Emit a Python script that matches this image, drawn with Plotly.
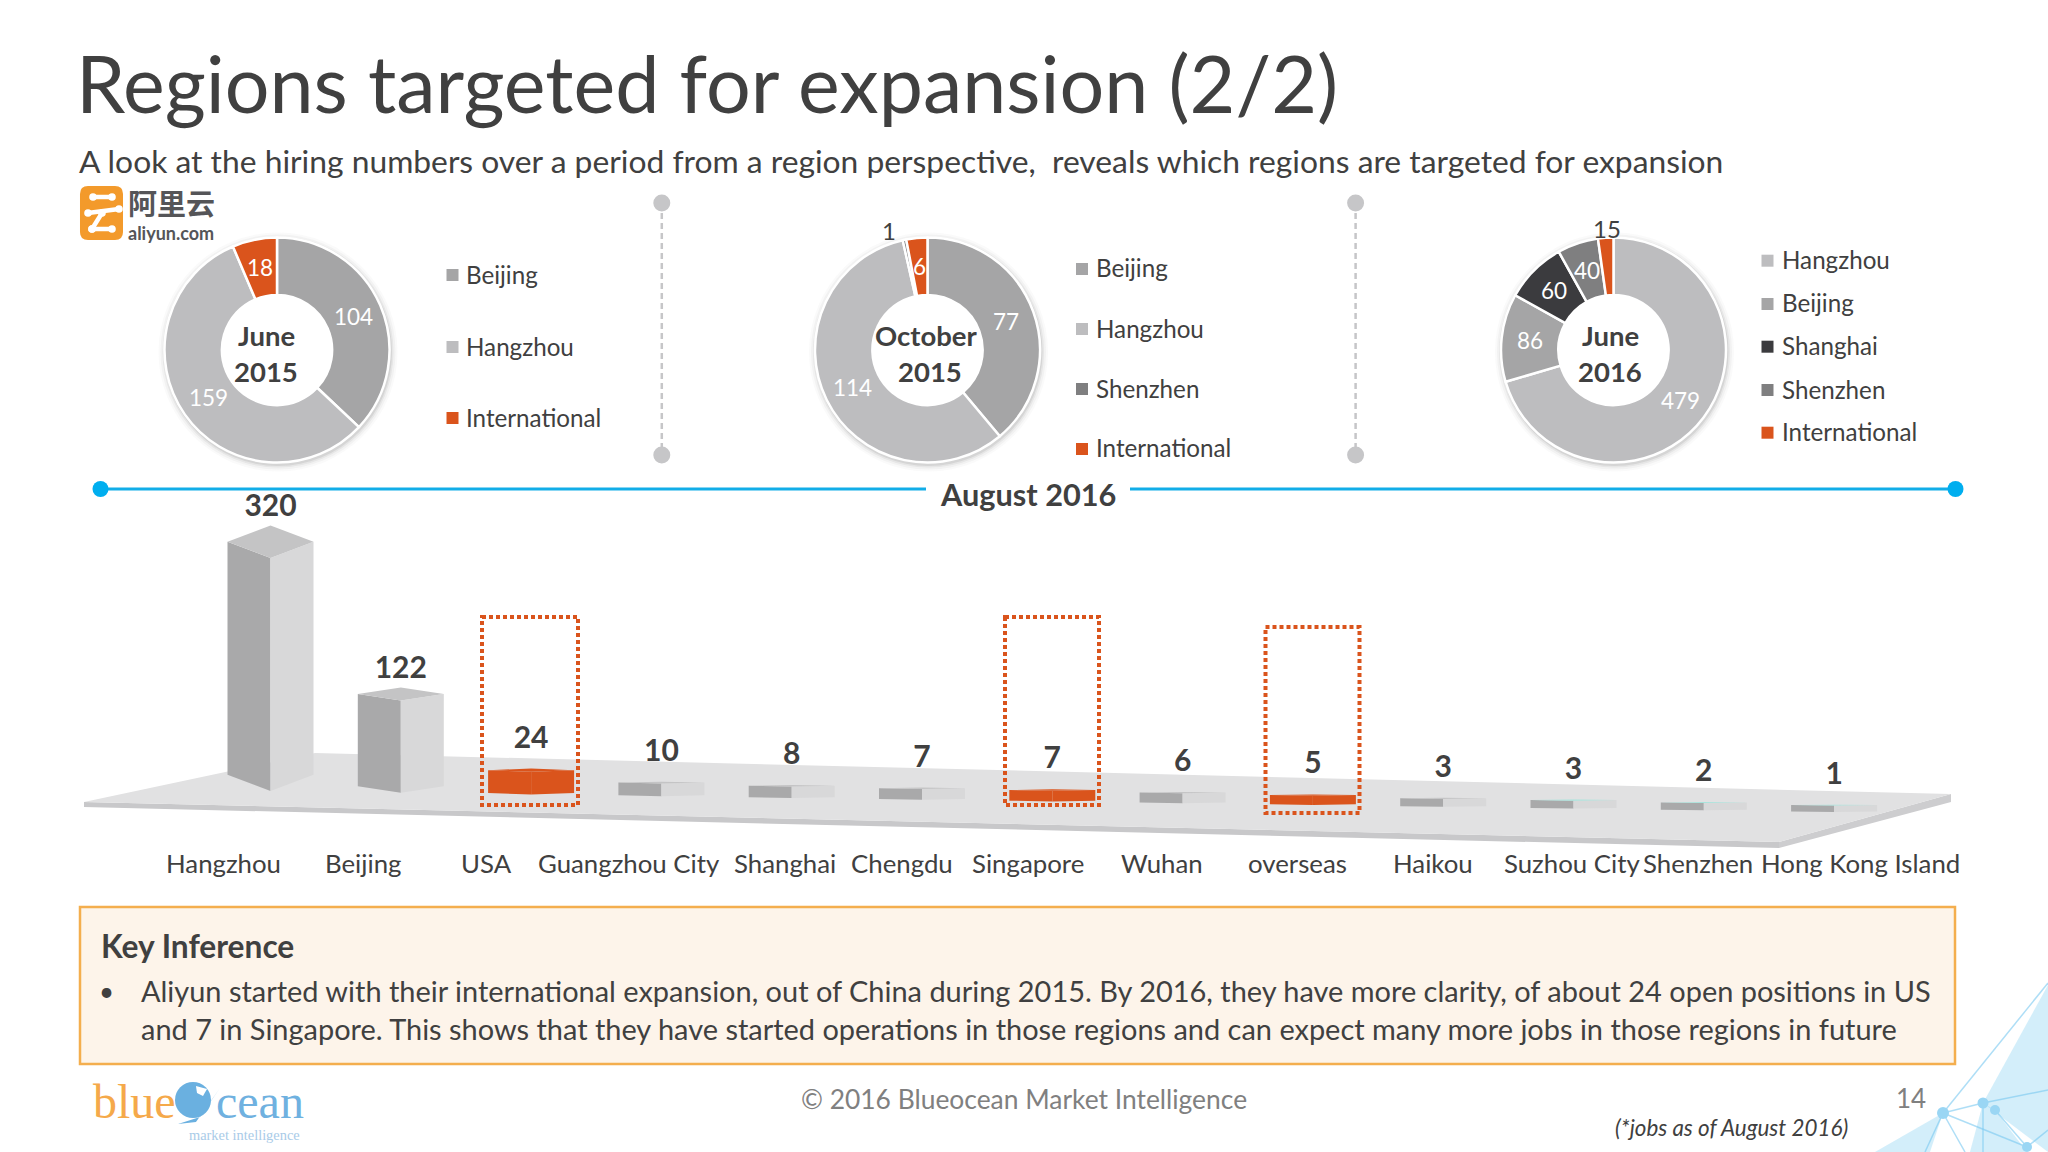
import math
import plotly.graph_objects as go

W, H = 2048, 1152

# ============================================================================
# DATA
# ============================================================================

june15_labels = ["Beijing", "Hangzhou", "International"]
june15_values = [104, 159, 18]

oct15_labels = ["Beijing", "Hangzhou", "Shenzhen", "International"]
oct15_values = [77, 114, 1, 6]

june16_labels = ["Hangzhou", "Beijing", "Shanghai", "Shenzhen", "International"]
june16_values = [479, 86, 60, 40, 15]

cities = ["Hangzhou", "Beijing", "USA", "Guangzhou City", "Shanghai", "Chengdu", "Singapore",
          "Wuhan", "overseas", "Haikou", "Suzhou City", "Shenzhen", "Hong Kong Island"]
jobs = [320, 122, 24, 10, 8, 7, 7, 6, 5, 3, 3, 2, 1]

# ============================================================================
# THEME
# ============================================================================

FONT = "Lato"
DARK = "#404040"
ORANGE = "#DA541C"
SLICE_COLORS = {
    "Hangzhou": "#BDBDBF", "Beijing": "#A5A5A6", "Shanghai": "#3B3B3E",
    "Shenzhen": "#7F7F80", "International": ORANGE,
}
INTL_CITIES = {"USA", "Singapore", "overseas"}
TEAL_TOPS = {"Suzhou City", "Shenzhen", "Hong Kong Island"}

shapes = []
notes = []


def px(x):
    return x / W


def py(y):
    return 1 - y / H


def label(text, x, y, size, color=DARK, bold=False, italic=False, anchor="center", family=FONT):
    notes.append(dict(
        text=text, x=px(x), y=py(y), xref="paper", yref="paper", showarrow=False,
        xanchor=anchor, yanchor="middle", align=anchor if anchor != "center" else "center",
        font=dict(family=family, size=size, color=color,
                  weight=700 if bold else 400, style="italic" if italic else "normal"),
    ))


def rect(x0, y0, x1, y1, fill, line=None, width=0, layer="below", dash=None):
    shapes.append(dict(
        type="rect", xref="paper", yref="paper", x0=px(x0), x1=px(x1), y0=py(y0), y1=py(y1),
        fillcolor=fill, line=dict(color=line, width=width, dash=dash), layer=layer,
    ))


def circle(cx, cy, r, fill, layer="below"):
    shapes.append(dict(
        type="circle", xref="paper", yref="paper", x0=px(cx - r), x1=px(cx + r),
        y0=py(cy - r), y1=py(cy + r), fillcolor=fill, line=dict(width=0), layer=layer,
    ))


def seg(x0, y0, x1, y1, color, width, dash=None, layer="below"):
    shapes.append(dict(
        type="line", xref="paper", yref="paper", x0=px(x0), x1=px(x1), y0=py(y0), y1=py(y1),
        line=dict(color=color, width=width, dash=dash), layer=layer,
    ))


def poly(points, fill, line_color=None, line_width=0, layer="below"):
    d = "M " + " L ".join(f"{px(x):.5f},{py(y):.5f}" for x, y in points) + " Z"
    shapes.append(dict(
        type="path", xref="paper", yref="paper", path=d, fillcolor=fill,
        line=dict(color=line_color, width=line_width), layer=layer,
    ))


def round_rect(x0, y0, x1, y1, r, fill):
    P = lambda x, y: f"{px(x):.5f},{py(y):.5f}"
    d = (f"M {P(x0 + r, y0)} L {P(x1 - r, y0)} Q {P(x1, y0)} {P(x1, y0 + r)} "
         f"L {P(x1, y1 - r)} Q {P(x1, y1)} {P(x1 - r, y1)} "
         f"L {P(x0 + r, y1)} Q {P(x0, y1)} {P(x0, y1 - r)} "
         f"L {P(x0, y0 + r)} Q {P(x0, y0)} {P(x0 + r, y0)} Z")
    shapes.append(dict(type="path", xref="paper", yref="paper", path=d, fillcolor=fill,
                       line=dict(width=0), layer="below"))


fig = go.Figure()

# ============================================================================
# DONUTS
# ============================================================================

R_OUT = 112.5
HOLE = 0.49


def add_donut(labels, values, cx, cy):
    # soft drop shadow under the ring, kept out of the hole
    for grow, alpha in [(7, 0.03), (5, 0.05), (3, 0.08), (1.5, 0.12)]:
        circle(cx + 1, cy + 2, R_OUT + grow, f"rgba(90,90,90,{alpha})")
    circle(cx, cy, R_OUT * HOLE + 2, "white")
    fig.add_trace(go.Pie(
        labels=labels, values=values, hole=HOLE, sort=False, direction="clockwise", rotation=0,
        domain=dict(x=[px(cx - R_OUT), px(cx + R_OUT)], y=[py(cy + R_OUT), py(cy - R_OUT)]),
        marker=dict(colors=[SLICE_COLORS[n] for n in labels], line=dict(color="white", width=2.5)),
        textinfo="none", showlegend=False,
    ))
    total = sum(values)
    run = 0
    ring_mid = R_OUT * (1 + HOLE) / 2
    for v in values:
        mid = math.radians((run + v / 2) / total * 360)
        run += v
        if v / total < 0.01 or v == 15:
            # tiny slices get their number outside the ring
            shift = -14 if v == 1 else 2
            label(str(v), cx + 122 * math.sin(mid) + shift, cy - 122 * math.cos(mid), 24, DARK)
        else:
            label(str(v), cx + ring_mid * math.sin(mid), cy - ring_mid * math.cos(mid), 22.5, "white")


def add_legend(names, x_box, x_text, ys):
    for name, y in zip(names, ys):
        rect(x_box, y - 6, x_box + 12, y + 6, SLICE_COLORS[name])
        label(name, x_text - 2, y - 1, 24.2, DARK, anchor="left")


add_donut(june15_labels, june15_values, 277, 350)
add_donut(oct15_labels, oct15_values, 927.5, 350)
add_donut(june16_labels, june16_values, 1613.5, 350)

add_legend(june15_labels, 446.5, 466, [275, 347, 418])
add_legend(oct15_labels, 1076, 1096, [269, 329, 389, 449])
add_legend(june16_labels, 1761.5, 1781.5, [260.7, 304, 346.7, 390, 432.7])

label("June", 266, 335.7, 27.5, DARK, bold=True)
label("2015", 266, 371, 27.5, DARK, bold=True)
label("October", 926.7, 335.7, 27.5, DARK, bold=True)
label("2015", 930, 371, 27.5, DARK, bold=True)
label("June", 1610, 335.7, 27.5, DARK, bold=True)
label("2016", 1610, 371, 27.5, DARK, bold=True)

# dashed dividers between the donuts
for x in [661.8, 1355.6]:
    seg(x, 203, x, 455, "#C6C6C8", 2.5, dash="6px,4px")
    circle(x, 203, 8.5, "#C6C6C8")
    circle(x, 455, 8.5, "#C6C6C8")

# ============================================================================
# PSEUDO 3D BARS ON A TILTED FLOOR
# ============================================================================

BAR_HALF = 0.33      # half a bar width, in category steps
PLINTH = 8           # every block keeps a little height, in jobs
FLOOR_START = 12.7   # floor height under the first bar, in jobs
FLOOR_DROP = 2.46    # the floor falls away to the right, per category
SKEW = 0.07          # how far the side faces lean back

STEP_PX = 130.3
JOB_PX = 0.71
X_RANGE = [-270.5 / STEP_PX, (W - 270.5) / STEP_PX]
Y_RANGE = [(800 - H) / JOB_PX, 800 / JOB_PX]

# floor plate
poly([(84, 802), (1779, 842), (1779, 848), (84, 807)], "#C8C8CA")
poly([(1779, 842), (1951, 794), (1951, 802), (1779, 848)], "#CDCDCF")
poly([(84, 802), (315, 753), (1951, 794), (1779, 842)], "#E1E1E2")


def add_face(xs, ys, color):
    fig.add_trace(go.Scatter(
        x=xs, y=ys, mode="lines", fill="toself", fillcolor=color,
        line=dict(width=0, color=color), hoverinfo="skip", showlegend=False,
    ))


tops_y = []
for i, (city, v) in enumerate(zip(cities, jobs)):
    base = FLOOR_START - FLOOR_DROP * i
    top = base + v + PLINTH
    lean = SKEW * (v + PLINTH)
    l, r = i - BAR_HALF, i + BAR_HALF
    if city in INTL_CITIES:
        c_left = c_right = c_top = ORANGE
    else:
        c_left, c_right, c_top = "#A9A9AA", "#D8D8D9", "#C4C4C5"
        if city in TEAL_TOPS:
            c_top = "#A6E4DC"
    add_face([l, i, i, l, l], [base + lean, base, top, top + lean, base + lean], c_left)
    add_face([i, r, r, i, i], [base, base + lean, top + lean, top, base], c_right)
    add_face([l, i, r, i, l], [top + lean, top, top + lean, top + 2 * lean, top + lean], c_top)
    tops_y.append(top + 2 * lean + (3 if v > 100 else 19))

fig.add_trace(go.Scatter(
    x=list(range(len(cities))), y=tops_y, mode="text",
    text=[str(v) for v in jobs], textposition="top center",
    textfont=dict(family=FONT, size=30, color=DARK, weight=700),
    hoverinfo="skip", showlegend=False,
))

# category names sit under the floor, not exactly under their bars
label_px = [223, 363, 486, 629, 785, 902, 1028, 1162, 1297, 1433, 1572, 1698, 1860]
for name, x in zip(cities, label_px):
    label(name, x, 863, 25.8, DARK)

# dotted call-outs around the international bars
for x0, y0, x1, y1 in [(482, 617, 578, 805), (1005, 617, 1099, 805), (1265.5, 627, 1359.5, 813)]:
    rect(x0, y0, x1, y1, "rgba(0,0,0,0)", ORANGE, 4, layer="above", dash="4px,3px")

# ============================================================================
# TIMELINE
# ============================================================================

BLUE = "#12ADE8"
seg(100, 489, 926, 489, BLUE, 3)
seg(1130, 489, 1955, 489, BLUE, 3)
circle(100.5, 489, 8, "#00AEEF")
circle(1955.5, 489, 8, "#00AEEF")
label("August 2016", 1028, 494, 30.7, DARK, bold=True)

# ============================================================================
# HEADINGS AND KEY INFERENCE BOX
# ============================================================================

label("Regions targeted for expansion (2/2)", 74, 82, 79, DARK, anchor="left")
label("A look at the hiring numbers over a period from a region perspective,  reveals which regions are targeted for expansion",
      77, 161, 31.8, DARK, anchor="left")

rect(80, 907, 1955, 1064, "#FDF4EA", "#F4AE4E", 2.5)
label("Key Inference", 98.5, 946, 31.7, DARK, bold=True, anchor="left")
label("•", 106, 991, 26, DARK)
label("Aliyun started with their international expansion, out of China during 2015. By 2016, they have more clarity, of about 24 open positions in US",
      139, 990, 28.95, DARK, anchor="left")
label("and 7 in Singapore. This shows that they have started operations in those regions and can expect many more jobs in those regions in future",
      139, 1028, 28.95, DARK, anchor="left")

label("© 2016 Blueocean Market Intelligence", 1024, 1099, 26.4, "#808080")
label("14", 1911, 1098, 26, "#808080")
label("(*jobs as of August 2016)", 1731, 1127, 22.4, DARK, italic=True)

# ============================================================================
# LOGOS AND CORNER DECORATION
# ============================================================================

# aliyun mark
round_rect(80, 186, 123, 240, 8, "#F39A2B")
for x0, y0, x1, y1 in [(93, 197, 112, 197), (88, 213, 119, 209), (102, 213, 92, 229), (92, 229, 112, 229)]:
    seg(x0, y0, x1, y1, "white", 4.5)
    circle(x0, y0, 3.8, "white")
    circle(x1, y1, 3.8, "white")
label("阿里云", 171, 202, 29, "#555558", bold=True, family="Noto Sans CJK SC")
label("aliyun.com", 171, 233, 18, "#555558", bold=True)

# blueocean mark
label("blue", 91, 1101, 48, "#F5A94A", anchor="left", family="Liberation Serif")
label("cean", 214, 1101, 48, "#6FB1E0", anchor="left", family="Liberation Serif")
label("market intelligence", 302, 1135, 14.4, "#A9CBE8", anchor="right", family="Liberation Serif")
circle(193, 1100, 18, "#6AB0E0")
poly([(178, 1124), (196, 1122), (220, 1088), (200, 1117)], "#6AB0E0")
poly([(196, 1086), (207, 1089), (203, 1096), (197, 1093)], "white")

# network in the bottom right corner
NET = "rgba(130,205,240,0.35)"
poly([(2048, 985), (1983, 1103), (2048, 1152)], NET)
poly([(1983, 1103), (1995, 1110), (2027, 1152), (1970, 1152)], NET)
poly([(1943, 1113), (1875, 1152), (1930, 1152)], NET)
for a, b in [((2048, 983), (1943, 1113)), ((1943, 1113), (1983, 1103)), ((1983, 1103), (2048, 1090)),
             ((1943, 1113), (2027, 1147)), ((1995, 1110), (2027, 1147)), ((1983, 1103), (1983, 1152)),
             ((1943, 1113), (1925, 1152)), ((1943, 1113), (1965, 1152)), ((2027, 1147), (2048, 1130))]:
    seg(a[0], a[1], b[0], b[1], "rgba(120,200,240,0.6)", 1.5)
for x, y, r in [(1943, 1113, 6), (1983, 1103, 5.5), (1995, 1110, 5), (2027, 1147, 5)]:
    circle(x, y, r, "#9AD6F4")

# ============================================================================
# LAYOUT
# ============================================================================

fig.update_layout(
    width=W, height=H,
    margin=dict(l=0, r=0, t=0, b=0),
    paper_bgcolor="white", plot_bgcolor="rgba(0,0,0,0)",
    xaxis=dict(visible=False, range=X_RANGE, domain=[0, 1], fixedrange=True),
    yaxis=dict(visible=False, range=Y_RANGE, domain=[0, 1], fixedrange=True),
    shapes=shapes, annotations=notes, showlegend=False,
    font=dict(family=FONT),
)

fig.write_html("out.html", config={"displayModeBar": False},
               post_script="document.body.style.margin='0';")
